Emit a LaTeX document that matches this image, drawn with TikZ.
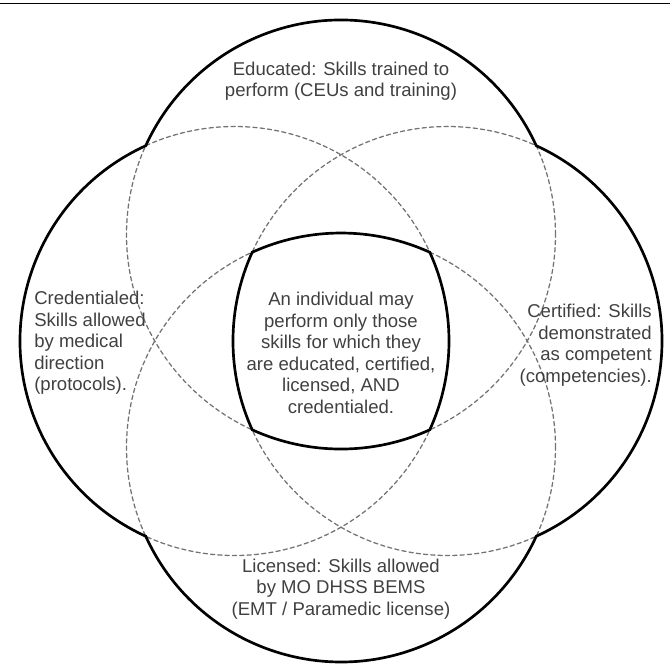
\documentclass[tikz,border=0pt]{standalone}
\usepackage{fontspec}
\setmainfont{Liberation Sans}
\usepackage{tikz}
\usepackage{xcolor}

\begin{document}
\begin{tikzpicture}[line cap=round,
  font=\fontsize{13.2}{15.3}\selectfont,
  ring/.style={gray!90!black,line width=0.9pt,dash pattern=on 3pt off 2.2pt},
  rim/.style={black,line width=1.9pt,line join=miter},
  txt/.style={black!75,inner sep=0pt}]
\useasboundingbox (-8.525,-8.15) rectangle (8.225,8.525);
% rule left over from the page above
\draw[black,line width=1pt,line cap=butt] (-8.525,8.44) -- (8.225,8.44);
% circle centres, radius 5.3625
\coordinate (edu) at (0,2.6625);
\coordinate (cred) at (-2.6625,0);
\coordinate (cert) at (2.6625,0);
\coordinate (lic) at (0,-2.6625);
\draw[ring] (edu) circle (5.3625);
\draw[ring] (cred) circle (5.3625);
\draw[ring] (cert) circle (5.3625);
\draw[ring] (lic) circle (5.3625);
% outer outline
\draw[rim] ([shift={(24.45:5.3625)}]edu)
  arc[start angle=24.45,end angle=155.55,radius=5.3625]
  arc[start angle=114.45,end angle=245.55,radius=5.3625]
  arc[start angle=204.45,end angle=335.55,radius=5.3625]
  arc[start angle=-65.55,end angle=65.55,radius=5.3625] -- cycle;
% common part of all four
\draw[rim] ([shift={(65.55:5.3625)}]lic)
  arc[start angle=65.55,end angle=114.45,radius=5.3625]
  arc[start angle=155.55,end angle=204.45,radius=5.3625]
  arc[start angle=245.55,end angle=294.45,radius=5.3625]
  arc[start angle=-24.45,end angle=24.45,radius=5.3625] -- cycle;
\node[txt,align=center] (edutxt) at (0,6.5) {Educated: Skills trained to\\perform (CEUs and training)};
\node[txt,align=left,anchor=west] (credtxt) at (-7.675,-0.05) {Credentialed:\\Skills allowed\\by medical\\direction\\(protocols).};
\node[txt,align=right,anchor=east] (certtxt) at (7.775,-0.1) {Certified: Skills\\demonstrated\\as competent\\(competencies).};
\node[txt,align=center] (lictxt) at (0,-6.2) {Licensed: Skills allowed\\by MO DHSS BEMS\\(EMT / Paramedic license)};
\node[txt,align=center] (alltxt) at (0,-0.3) {An individual may\\perform only those\\skills for which they\\are educated, certified,\\licensed, AND\\credentialed.};
\end{tikzpicture}
\end{document}
